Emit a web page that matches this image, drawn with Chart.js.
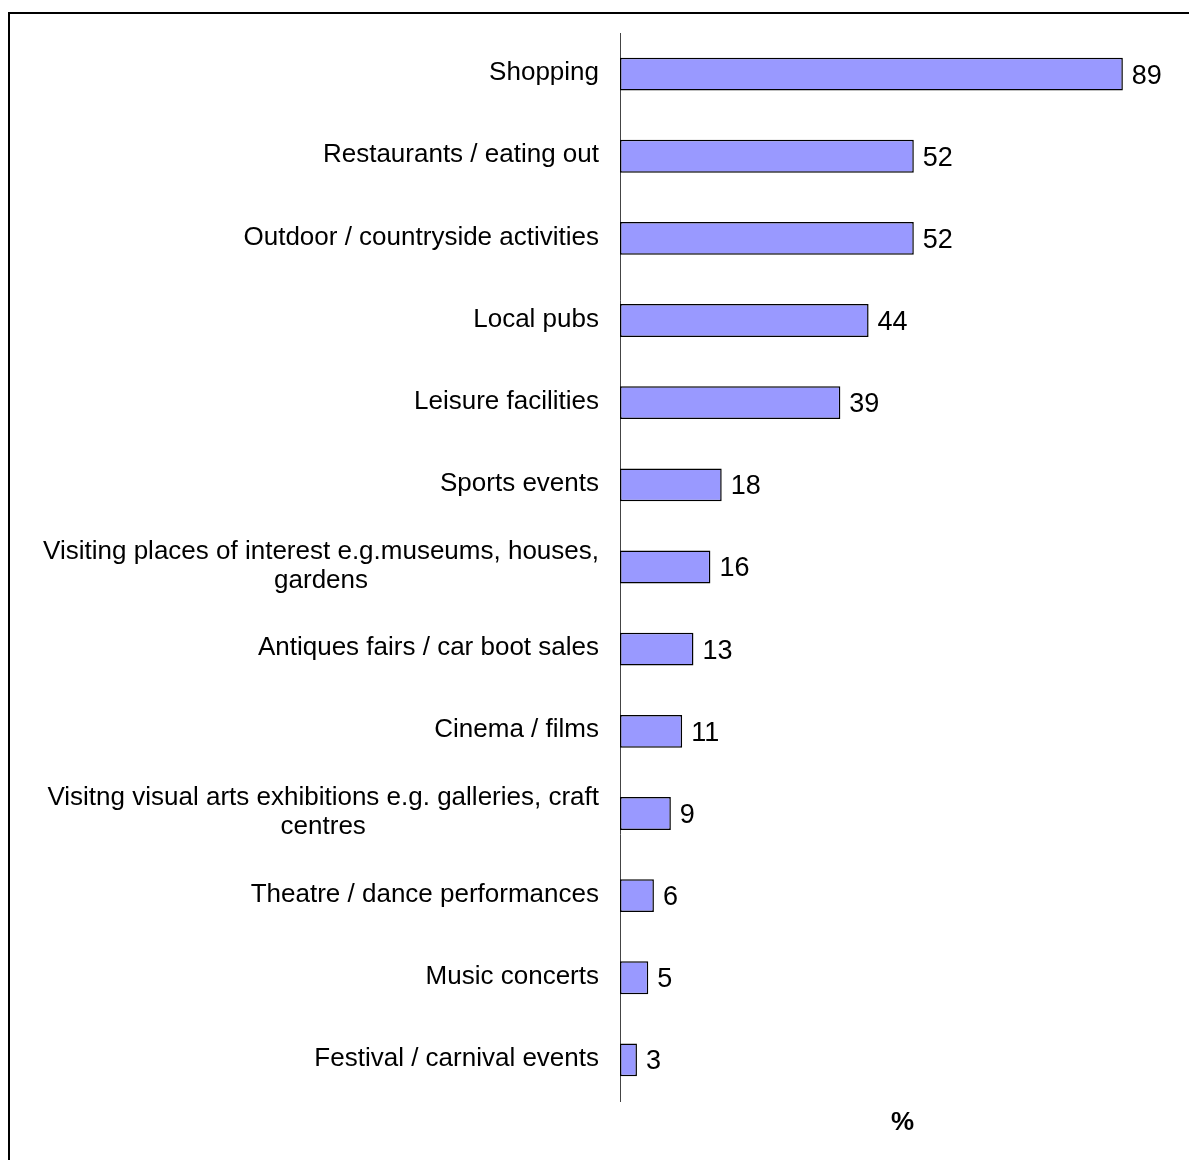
<!DOCTYPE html>
<html>
<head>
<meta charset="utf-8">
<script src="https://cdn.jsdelivr.net/npm/chart.js@4"></script>
<style>
html,body{margin:0;padding:0;background:#fff;overflow:hidden;width:1189px;height:1160px;}
#frame{position:absolute;left:8px;top:12px;width:1300px;height:1300px;border:2px solid #000;box-sizing:border-box;}
#wrap{position:absolute;left:0;top:0;width:1189px;height:1160px;}
</style>
</head>
<body>
<div id="frame"></div>
<div id="wrap"><canvas id="c" width="1189" height="1160"></canvas></div>
<script>
const categories = [
  ["Shopping"],
  ["Restaurants / eating out"],
  ["Outdoor / countryside activities"],
  ["Local pubs"],
  ["Leisure facilities"],
  ["Sports events"],
  ["Visiting places of interest e.g.museums, houses,", "gardens"],
  ["Antiques fairs / car boot sales"],
  ["Cinema / films"],
  ["Visitng visual arts exhibitions e.g. galleries, craft", "centres"],
  ["Theatre / dance performances"],
  ["Music concerts"],
  ["Festival / carnival events"]
];
const values = [89, 52, 52, 44, 39, 18, 16, 13, 11, 9, 6, 5, 3];
const axisTitle = "%";

const FONT = "'Liberation Sans', Arial, sans-serif";

const labelPlugin = {
  id: 'labels',
  afterDraw(chart) {
    const ctx = chart.ctx;
    const y = chart.scales.y;
    const area = chart.chartArea;
    ctx.save();
    ctx.fillStyle = '#000';
    ctx.textBaseline = 'middle';
    ctx.font = '26px ' + FONT;
    const lh = 29;
    categories.forEach((lines, i) => {
      const cy = y.getPixelForValue(i);
      let maxW = 0;
      lines.forEach(l => { maxW = Math.max(maxW, ctx.measureText(l).width); });
      const cx = area.left - 21 - maxW / 2;
      ctx.textAlign = 'center';
      const start = cy - (lines.length - 1) * lh / 2 - 1;
      lines.forEach((l, k) => ctx.fillText(l, cx, start + k * lh));
    });
    // value labels
    const meta = chart.getDatasetMeta(0);
    ctx.textAlign = 'left';
    ctx.font = '27px ' + FONT;
    meta.data.forEach((bar, i) => {
      ctx.fillText(String(values[i]), bar.x + 9, bar.y + 2);
    });
    // axis title
    ctx.font = 'bold 26px ' + FONT;
    ctx.textAlign = 'center';
    ctx.fillText(axisTitle, (area.left + area.right) / 2, 1123);
    ctx.restore();
  }
};

new Chart(document.getElementById('c'), {
  type: 'bar',
  data: {
    labels: categories.map(c => c.join(' ')),
    datasets: [{
      data: values,
      backgroundColor: '#9999FF',
      borderColor: '#000',
      borderWidth: 1.5,
      borderSkipped: false,
      categoryPercentage: 1,
      barPercentage: 0.4
    }]
  },
  options: {
    indexAxis: 'y',
    responsive: false,
    animation: false,
    layout: { padding: { left: 620, right: 4, top: 33, bottom: 59 } },
    plugins: { legend: { display: false }, tooltip: { enabled: false } },
    scales: {
      x: { display: false, min: 0, max: 100 },
      y: {
        display: true,
        ticks: { display: false },
        grid: { display: false, drawTicks: false },
        border: { display: true, color: '#444', width: 1 },
        afterFit(s) { s.width = 0; }
      }
    }
  },
  plugins: [labelPlugin]
});
</script>
</body>
</html>
